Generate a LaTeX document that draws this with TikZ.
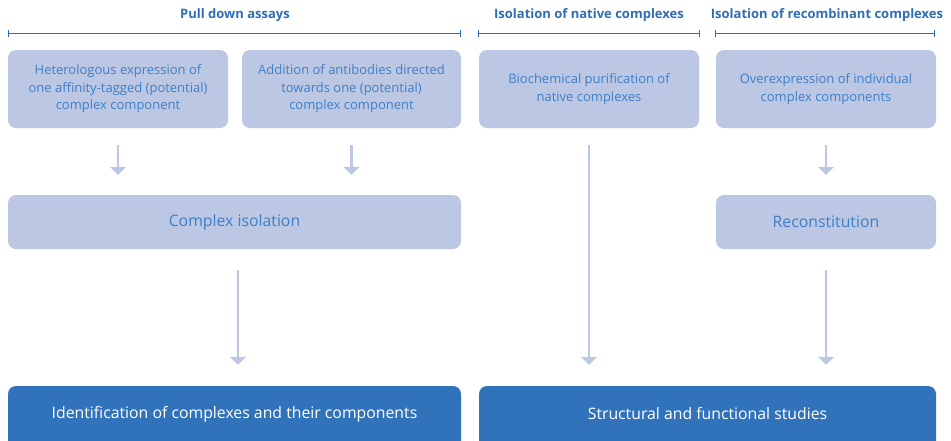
\documentclass[tikz,border=0pt]{standalone}
\usepackage{fontspec}
\setmainfont{Open Sans}
\usetikzlibrary{arrows.meta}
\definecolor{lightbox}{HTML}{BCC7E3}
\definecolor{lighttext}{HTML}{3F7FC8}
\definecolor{darkbox}{HTML}{3173BA}
\definecolor{headblue}{HTML}{2F6DB5}
\tikzset{
  lbox/.style={fill=lightbox, rounded corners=8pt, inner sep=0pt, text=lighttext, align=center, font=\fontsize{13}{17.5}\selectfont},
  dbox/.style={fill=darkbox, rounded corners=8pt, inner sep=0pt, text=white, align=center},
  bigtext/.style={font=\fontsize{15.8}{18}\selectfont},
  head/.style={text=headblue, font=\fontsize{13}{15}\selectfont\bfseries, inner sep=0pt},
  hline/.style={draw=headblue, line width=1pt, {Bar[width=7pt]}-{Bar[width=7pt]}},
  flow/.style={draw=lightbox, line width=2.6pt, -{Triangle[width=16pt,length=8pt]}},
}
\begin{document}
\begin{tikzpicture}[x=1pt,y=-1pt]
\useasboundingbox (0,0) rectangle (951,440);
% headers
\node[head] (h1) at (235,15) {Pull down assays};
\node[head] (h2) at (589,15) {Isolation of native complexes};
\node[head] (h3) at (827,15) {Isolation of recombinant complexes};
\coordinate (h1a) at (8,33); \coordinate (h1b) at (461,33);
\coordinate (h2a) at (478,33); \coordinate (h2b) at (700,33);
\coordinate (h3a) at (715,33); \coordinate (h3b) at (935,33);
\draw[hline] (h1a) -- (h1b);
\draw[hline] (h2a) -- (h2b);
\draw[hline] (h3a) -- (h3b);
% row 1
\node[lbox, minimum width=220pt, minimum height=78pt] (b1) at (118,89) {Heterologous expression of\\one affinity-tagged (potential)\\complex component};
\node[lbox, minimum width=219pt, minimum height=78pt] (b2) at (351.5,89) {Addition of antibodies directed\\towards one (potential)\\complex component};
\node[lbox, minimum width=220pt, minimum height=78pt] (b3) at (589,89) {Biochemical purification of\\native complexes};
\node[lbox, minimum width=220pt, minimum height=78pt] (b4) at (826,89) {Overexpression of individual\\complex components};
% row 2
\node[lbox, bigtext, minimum width=453pt, minimum height=54pt] (ci) at (234.5,222) {Complex isolation};
\node[lbox, bigtext, minimum width=220pt, minimum height=54pt] (rc) at (826,222) {Reconstitution};
% row 3 (extends below the page edge)
\node[dbox, minimum width=453pt, minimum height=74pt] (d1) at (234.5,423) {};
\node[dbox, minimum width=457pt, minimum height=74pt] (d2) at (707.5,423) {};
\node[text=white, bigtext, inner sep=0pt] (t1) at (234.5,414) {Identification of complexes and their components};
\node[text=white, bigtext, inner sep=0pt] (t2) at (707.5,414) {Structural and functional studies};
% arrows
\draw[flow, shorten <=17pt, shorten >=20pt] (b1.south) -- (b1.south |- ci.north);
\draw[flow, shorten <=17pt, shorten >=20pt] (b2.south) -- (b2.south |- ci.north);
\draw[flow, shorten <=17pt, shorten >=20pt] (b4.south) -- (rc.north);
\draw[flow, shorten <=17pt, shorten >=21pt] (b3.south) -- (b3.south |- d2.north);
\draw[flow, shorten <=21pt, shorten >=21pt] ([xshift=3.5pt]ci.south) -- ([xshift=3.5pt]ci.south |- d1.north);
\draw[flow, shorten <=21pt, shorten >=21pt] (rc.south) -- (rc.south |- d2.north);
\end{tikzpicture}
\end{document}
